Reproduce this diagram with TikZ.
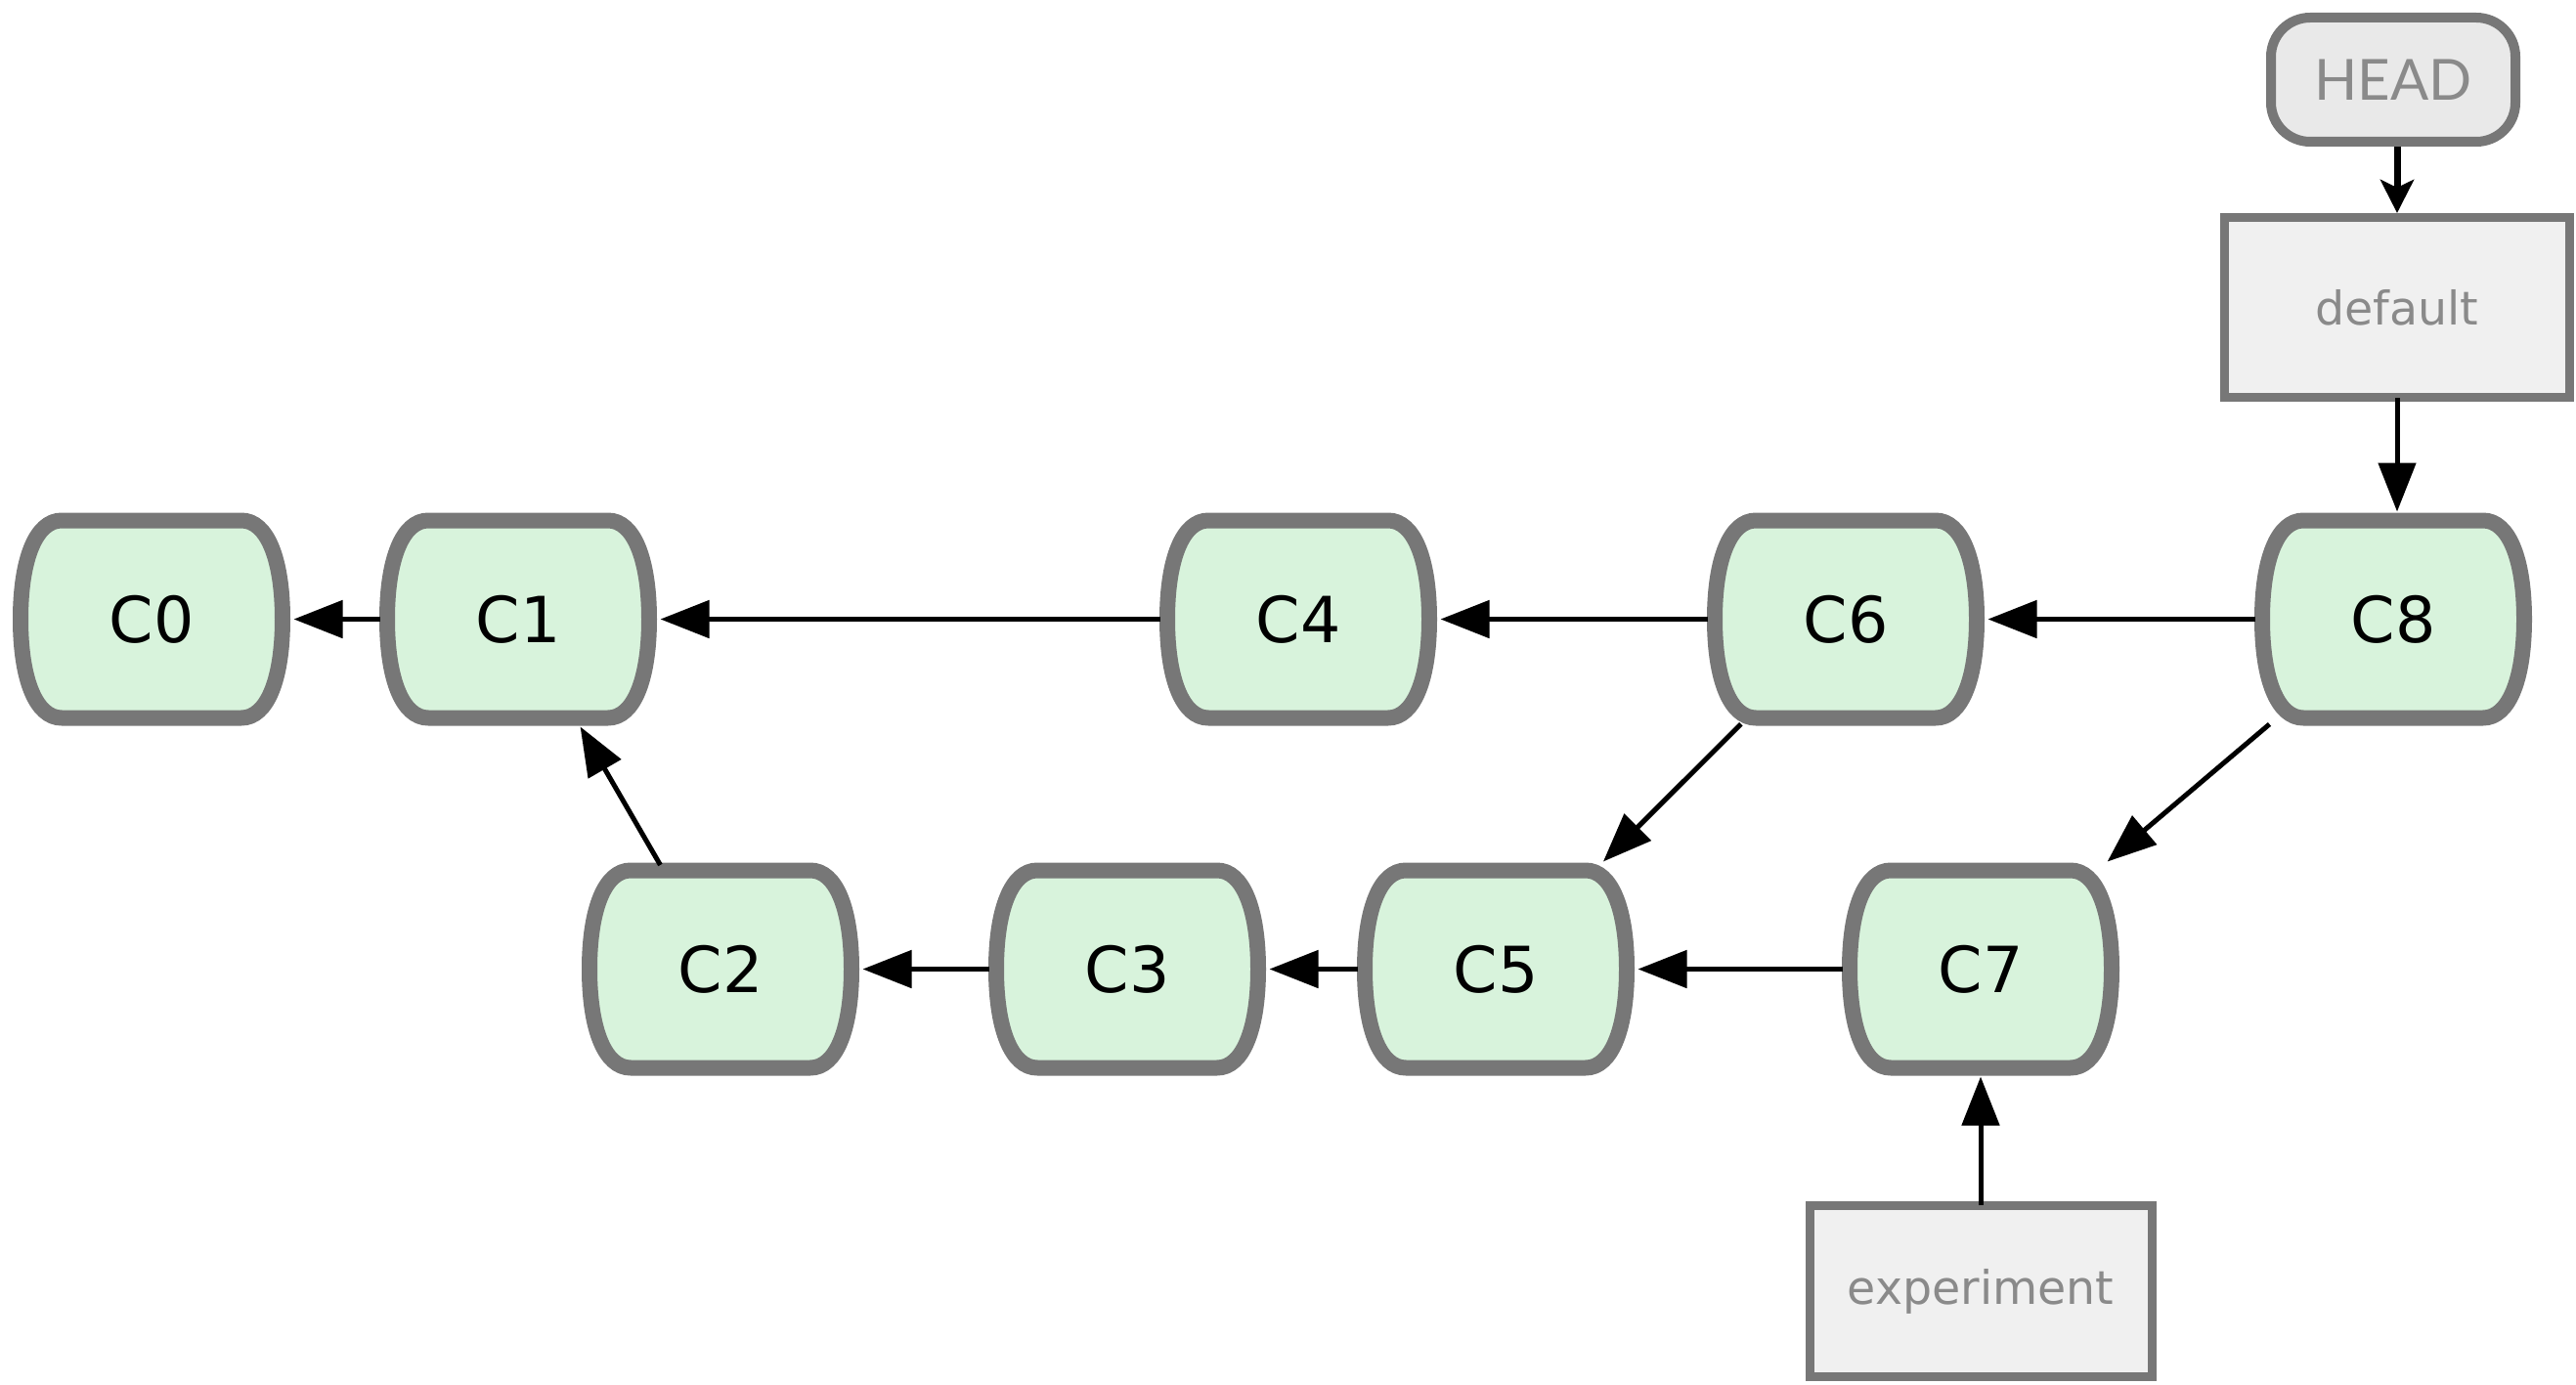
\documentclass[tikz,border=0pt]{standalone}
\usepackage{fontspec}
\setmainfont{DejaVu Sans}
\newfontfamily\headfont{Lato}
\usetikzlibrary{arrows.meta,backgrounds}

\definecolor{commitfill}{HTML}{D8F3DC}
\definecolor{borderline}{HTML}{777777}
\definecolor{reffill}{HTML}{F0F0F0}
\definecolor{headfill}{HTML}{E9E9E9}
\definecolor{reftext}{HTML}{8A8A8A}

\tikzset{
  commit/.style={minimum width=2.91cm, minimum height=2.2cm, inner sep=0pt, outer sep=0pt,
    font=\fontsize{18.5}{22}\selectfont},
  barrel/.style={draw=borderline, fill=commitfill, line width=0.16cm, line join=round},
  branch/.style={draw=borderline, fill=reffill, line width=0.09cm, inner sep=0pt,
    text=reftext, font=\fontsize{13.5}{16}\selectfont},
  headref/.style={draw=borderline, fill=headfill, line width=0.1cm, rounded corners=0.4cm,
    minimum width=2.5cm, minimum height=1.27cm, inner sep=0pt,
    text=reftext, font=\headfont\fontsize{16.5}{20}\selectfont},
  parent/.style={->, line width=0.05cm, shorten <=-0.04cm},
}

\begin{document}
\begin{tikzpicture}[>={Triangle[length=0.5cm,width=0.38cm]}]
    \useasboundingbox (0,0) rectangle (26.35,14.16);
    % Commits, top row
    \node[commit] (C0) at (1.55,7.825) {C0};
    \node[commit] (C1) at (5.30,7.825) {C1};
    \node[commit] (C4) at (13.28,7.825) {C4};
    \node[commit] (C6) at (18.88,7.825) {C6};
    \node[commit] (C8) at (24.48,7.825) {C8};
    % Commits, bottom row
    \node[commit] (C2) at (7.37,4.245) {C2};
    \node[commit] (C3) at (11.53,4.245) {C3};
    \node[commit] (C5) at (15.30,4.245) {C5};
    \node[commit] (C7) at (20.26,4.245) {C7};
    % Barrel outlines behind the labels
    \begin{scope}[on background layer]
      \foreach \c in {C0,C1,C2,C3,C4,C5,C6,C7,C8}
        \filldraw[barrel, shift={(\c)}] (-0.92,1.01) -- (0.92,1.01)
          .. controls (1.18,1.01) and (1.34,0.62) .. (1.34,0)
          .. controls (1.34,-0.62) and (1.18,-1.01) .. (0.92,-1.01) -- (-0.92,-1.01)
          .. controls (-1.18,-1.01) and (-1.34,-0.62) .. (-1.34,0)
          .. controls (-1.34,0.62) and (-1.18,1.01) .. cycle;
    \end{scope}
    % Branch pointers
    \node[headref] (HEAD) at (24.48,13.345) {HEAD};
    \node[branch, minimum width=3.53cm, minimum height=1.84cm] (default) at (24.52,11.015) {default};
    \node[branch, minimum width=3.5cm, minimum height=1.75cm] (experiment) at (20.26,0.95) {experiment};
    % Parent links
    \draw[parent] (C1) -- (C0);
    \draw[parent] (C4) -- (C1);
    \draw[parent] (C6) -- (C4);
    \draw[parent] (C8) -- (C6);
    \draw[parent] (C2) -- (C1);
    \draw[parent] (C3) -- (C2);
    \draw[parent] (C5) -- (C3);
    \draw[parent] (C7) -- (C5);
    \draw[parent] (C6) -- (C5);
    \draw[parent] (C8) -- (C7);
    % Refs
    \draw[->, >={Stealth[length=0.34cm,width=0.34cm,inset=0.08cm]}, line width=0.07cm]
      (default.north |- HEAD.south) -- (default);
    \draw[parent] (default) -- (default |- C8.north);
    \draw[parent] (experiment) -- (C7);
\end{tikzpicture}
\end{document}
